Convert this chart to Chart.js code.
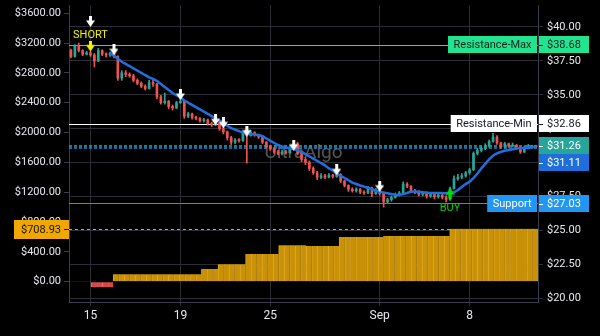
<!DOCTYPE html>
<html>
<head>
<meta charset="utf-8">
<script src="https://cdn.jsdelivr.net/npm/chart.js@4.4.1/dist/chart.umd.min.js"></script>
<style>
html,body{margin:0;padding:0;background:#000;}
#wrap{width:600px;height:336px;position:relative;}
</style>
</head>
<body>
<div id="wrap"><canvas id="c"></canvas></div>
<script>
// ── Candles (left axis, $) ──
const opens=[3100,3020,3160,3100,3050,3070,3040,2960,3100,3050,
 3040,3060,3020,2730,2800,2780,2760,2700,2660,2620,
 2590,2670,2650,2480,2400,2420,2350,2330,2400,2420,
 2220,2250,2200,2190,2160,2170,2120,2100,2130,2050,
 2010,1930,1870,1900,1890,1990,1960,2000,1970,1940,
 1870,1810,1780,1740,1720,1740,1730,1790,1850,1720,
 1640,1600,1520,1460,1400,1420,1400,1430,1410,1440,
 1350,1290,1240,1220,1240,1200,1190,1260,1180,1230,
 1180,1070,1100,1130,1170,1190,1310,1280,1220,1200,
 1170,1180,1150,1170,1140,1160,1130,1100,1250,1380,
 1400,1420,1460,1500,1720,1760,1790,1820,1880,1940,
 1860,1810,1850,1820,1830,1800,1740,1790,1820,1810];
const highs=[3120,3180,3200,3110,3090,3080,3060,3130,3110,3070,
 3080,3070,3030,2830,2830,2800,2780,2720,2680,2640,
 2700,2700,2660,2500,2530,2430,2370,2420,2470,2430,
 2270,2260,2220,2200,2190,2180,2140,2150,2140,2070,
 2020,1950,1920,1920,2000,2010,2030,2010,1980,1950,
 1880,1830,1800,1760,1760,1760,1800,1880,1870,1730,
 1660,1620,1540,1480,1450,1440,1450,1440,1500,1450,
 1360,1300,1260,1260,1250,1220,1280,1270,1250,1240,
 1190,1120,1150,1190,1210,1340,1330,1290,1240,1220,
 1200,1190,1190,1180,1180,1170,1150,1270,1420,1440,
 1450,1480,1520,1740,1790,1820,1850,1900,1990,1960,
 1870,1870,1860,1860,1840,1810,1810,1840,1830,1830];
const lows=[3000,3010,3080,3030,3040,3020,2880,2950,3030,3010,
 3020,3000,2700,2700,2750,2740,2680,2640,2600,2570,
 2580,2620,2450,2380,2380,2320,2300,2320,2390,2190,
 2200,2180,2170,2140,2140,2100,2080,2090,2030,1980,
 1900,1840,1850,1870,1880,1590,1950,1950,1920,1850,
 1790,1760,1720,1700,1700,1710,1720,1780,1700,1610,
 1570,1490,1440,1370,1380,1380,1390,1390,1400,1330,
 1270,1210,1200,1200,1180,1170,1180,1140,1170,1160,
 1000,1050,1080,1120,1150,1180,1260,1200,1180,1150,
 1150,1120,1130,1110,1120,1110,1070,1090,1240,1360,
 1380,1400,1440,1490,1700,1740,1770,1800,1870,1840,
 1790,1790,1800,1810,1780,1720,1730,1780,1790,1800];
const closes=[3020,3160,3100,3050,3070,3040,2960,3100,3050,3040,
 3060,3020,2730,2800,2780,2760,2700,2660,2620,2590,
 2670,2650,2480,2400,2420,2350,2330,2400,2420,2220,
 2250,2200,2190,2160,2170,2120,2100,2130,2050,2010,
 1930,1870,1900,1890,1990,1960,2000,1970,1940,1870,
 1810,1780,1740,1720,1740,1730,1790,1850,1720,1640,
 1600,1520,1460,1400,1420,1400,1430,1410,1440,1350,
 1290,1240,1220,1240,1200,1190,1260,1180,1230,1180,
 1070,1100,1130,1170,1190,1310,1280,1220,1200,1170,
 1180,1150,1170,1140,1160,1130,1100,1250,1380,1400,
 1420,1460,1500,1720,1760,1790,1820,1880,1940,1860,
 1810,1850,1820,1830,1800,1740,1790,1820,1810,1815];
const maLine=[null,null,null,null,null,null,null,null,null,null,
 3060,3030,2990,2950,2920,2890,2860,2830,2800,2770,
 2740,2720,2690,2650,2610,2570,2530,2500,2470,2430,
 2400,2370,2340,2310,2280,2250,2220,2190,2160,2130,
 2090,2060,2040,2020,2000,1990,1980,1975,1965,1950,
 1920,1890,1860,1830,1810,1800,1790,1780,1765,1740,
 1710,1680,1650,1620,1590,1560,1520,1490,1450,1420,
 1390,1360,1330,1310,1290,1275,1260,1240,1220,1205,
 1195,1185,1175,1165,1165,1175,1190,1205,1210,1205,
 1200,1195,1190,1190,1190,1190,1185,1190,1200,1230,
 1270,1310,1340,1390,1450,1520,1580,1640,1690,1720,
 1740,1755,1765,1775,1785,1790,1795,1800,1805,1800];

// ── Histogram (left axis) ──
const histVals=[10,10,10,10,-75,-75,-75,-75,
 100,100,100,100,100,100,100,100,100,100,100,100,100,100,100,100,
 170,170,170,235,235,235,235,235,
 370,370,370,370,370,370,490,490,490,490,490,
 478,478,478,478,478,478,600,600,600,600,600,600,600,600,
 612,612,612,612,612,612,612,612,612,612,612,612,
 708.93,708.93,708.93,708.93,708.93,708.93,708.93,708.93,
 708.93,708.93,708.93,708.93,708.93,708.93,708.93,708.93];
const histLast=708.93;

// ── Signals ──
const sellIdx=[5,11,28,37,39,45,57,68,79];
const sellPrice=[3490,3110,2510,2170,2130,2020,1830,1500,1280];
const shortIdx=5, shortPrice=3160, shortTextPrice=3305;
const buyIdx=97, buyPrice=1180, buyTextPrice=990;

// ── Levels (right axis) ──
const levelNames=['Resistance-Max','Resistance-Min','Support'];
const levelValues=[38.68,32.86,27.03];
const lastPrice=31.26, maLast=31.11;

// ── Axes ──
const xTickIdx=[5,28,51,79,102];
const xTickText=['15','19','25','Sep','8'];
const leftTicks=[0,400,800,1200,1600,2000,2400,2800,3200,3600];
const rightTicks=[20,22.5,25,27.5,30,32.5,35,37.5,40];
const watermark='UltraAlgo';

const UP='#26a69a', DOWN='#ef5350';
const labels=opens.map((_,i)=>i);
const histLabels=histVals.map((_,j)=>j);
const candleCol=closes.map((c,i)=>c>=opens[i]?UP:DOWN);

function arrowImg(color,up){
  const c=document.createElement('canvas');c.width=9;c.height=11;
  const g=c.getContext('2d');g.fillStyle=color;
  if(up){g.translate(0,11);g.scale(1,-1);}
  g.fillRect(3,0,3,5);
  g.beginPath();g.moveTo(0,4.5);g.lineTo(9,4.5);g.lineTo(4.5,11);g.closePath();g.fill();
  return c;
}

Chart.defaults.font.family='Roboto, sans-serif';

const overlay={
  id:'overlay',
  beforeDatasetsDraw(chart){
    const {ctx,chartArea:a,scales:{y,y1}}=chart;
    ctx.save();
    ctx.font='19px Roboto';ctx.fillStyle='rgba(130,130,130,0.65)';
    ctx.textAlign='center';ctx.textBaseline='middle';
    ctx.fillText(watermark,(a.left+a.right)/2,(a.top+a.bottom)/2);
    const lineCols=['#22e38f','#ffffff','#2196f3'];
    ctx.lineWidth=1;
    levelValues.forEach((v,k)=>{
      const py=Math.round(y1.getPixelForValue(v))+0.5;
      ctx.strokeStyle=lineCols[k];ctx.beginPath();ctx.moveTo(a.left,py);ctx.lineTo(a.right,py);ctx.stroke();
    });
    ctx.lineWidth=1.5;ctx.setLineDash([3,2]);
    [[lastPrice,'#26a6c0'],[maLast,'#1e88e5']].forEach(([v,col])=>{
      const py=Math.round(y1.getPixelForValue(v));
      ctx.strokeStyle=col;ctx.beginPath();ctx.moveTo(a.left,py);ctx.lineTo(a.right,py);ctx.stroke();
    });
    ctx.lineWidth=1;ctx.setLineDash([3,3]);ctx.strokeStyle='#f0a800';
    const gy=Math.round(y.getPixelForValue(histLast))+0.5;
    ctx.beginPath();ctx.moveTo(a.left,gy);ctx.lineTo(a.right,gy);ctx.stroke();
    ctx.restore();
  },
  afterDatasetsDraw(chart){
    const {ctx,scales:{x,y}}=chart;
    ctx.save();
    ctx.font='11px Roboto';ctx.textAlign='center';ctx.textBaseline='middle';
    ctx.fillStyle='#f2f200';
    ctx.fillText('SHORT',x.getPixelForValue(shortIdx),y.getPixelForValue(shortTextPrice));
    ctx.fillStyle='#00d400';
    ctx.fillText('BUY',x.getPixelForValue(buyIdx),y.getPixelForValue(buyTextPrice));
    ctx.restore();
  },
  afterDraw(chart){
    const {ctx,chartArea:a,scales:{y,y1}}=chart;
    ctx.save();
    ctx.font='11px Roboto';ctx.textBaseline='middle';
    const boxes=[
      {v:levelValues[0],bg:'#22e38f',fg:'#10201a',name:levelNames[0]},
      {v:levelValues[1],bg:'#ffffff',fg:'#131722',name:levelNames[1]},
      {v:lastPrice,bg:'#26a69a',fg:'#ffffff'},
      {v:maLast,bg:'#1e6fd9',fg:'#ffffff'},
      {v:levelValues[2],bg:'#2196f3',fg:'#ffffff',name:levelNames[2]}
    ].map(b=>Object.assign(b,{py:y1.getPixelForValue(b.v)})).sort((p,q)=>p.py-q.py);
    const h=17;let prevBottom=-1e9;
    boxes.forEach(b=>{
      const top=Math.max(Math.round(b.py-h/2),prevBottom);prevBottom=top+h;
      const cy=top+h/2;
      ctx.fillStyle=b.bg;ctx.fillRect(a.right+1,top,50,h);
      ctx.fillStyle=b.fg;ctx.fillRect(a.right+1,Math.round(cy),4,1);
      ctx.textAlign='left';ctx.fillText('$'+b.v.toFixed(2),a.right+9,cy+0.5);
      if(b.name){
        const w=ctx.measureText(b.name).width+12;
        ctx.fillStyle=b.bg;ctx.fillRect(a.right-w,top,w-1,h);
        ctx.fillStyle=b.fg;ctx.textAlign='center';ctx.fillText(b.name,a.right-w/2-0.5,cy+0.5);
      }
    });
    const gy=Math.round(y.getPixelForValue(histLast));
    ctx.fillStyle='#f0a800';ctx.fillRect(14,gy-9,a.left-14,19);
    ctx.fillStyle='#1a1400';ctx.fillRect(a.left-5,gy,5,1);
    ctx.textAlign='right';ctx.fillText('$'+histLast.toFixed(2),a.left-8,gy+1);
    ctx.restore();
  }
};

const axisCol='#3b3b4f', gridCol='#2c2c34', tickCol='#e6e8ee';

new Chart(document.getElementById('c'),{
  data:{labels,datasets:[
    {type:'bar',label:'hist',xAxisID:'xh',yAxisID:'y',order:5,data:histVals,
     backgroundColor:histVals.map(v=>v<0?'#d94848':'#c99105'),
     borderColor:histVals.map(v=>v<0?'#f07a7a':'#e0a82a'),
     borderWidth:{left:1,right:0,top:0,bottom:0},borderSkipped:false,
     barPercentage:1,categoryPercentage:1,grouped:false},
    {type:'bar',label:'wick',xAxisID:'x',yAxisID:'y',order:4,grouped:false,
     data:lows.map((l,i)=>[l,highs[i]]),backgroundColor:candleCol,barThickness:1},
    {type:'bar',label:'body',xAxisID:'x',yAxisID:'y',order:3,grouped:false,
     data:opens.map((o,i)=>[o,closes[i]]),backgroundColor:candleCol,barThickness:2,minBarLength:1},
    {type:'line',label:'MA',xAxisID:'x',yAxisID:'y',order:2,data:maLine,
     borderColor:'#1f6fe0',borderWidth:2.5,pointRadius:0,tension:0.35},
    {type:'line',label:'sell',xAxisID:'x',yAxisID:'y',order:1,showLine:false,
     data:sellIdx.map((x,k)=>({x,y:sellPrice[k]})),pointStyle:arrowImg('#ffffff',false)},
    {type:'line',label:'short',xAxisID:'x',yAxisID:'y',order:1,showLine:false,
     data:[{x:shortIdx,y:shortPrice}],pointStyle:arrowImg('#f2f200',false)},
    {type:'line',label:'buy',xAxisID:'x',yAxisID:'y',order:1,showLine:false,
     data:[{x:buyIdx,y:buyPrice}],pointStyle:arrowImg('#00e000',true)}
  ]},
  options:{responsive:true,maintainAspectRatio:false,animation:false,events:[],
    layout:{padding:{top:5,left:0,right:0,bottom:0}},
    plugins:{legend:{display:false},tooltip:{enabled:false}},
    scales:{
      x:{type:'category',offset:true,
        afterBuildTicks:s=>{s.ticks=xTickIdx.map(v=>({value:v}));},
        afterFit:s=>{s.height=34;s.paddingLeft=0;s.paddingRight=0;},
        ticks:{autoSkip:false,maxRotation:0,color:tickCol,padding:3,font:{size:12},
          callback:v=>xTickText[xTickIdx.indexOf(v)]},
        grid:{color:gridCol,offset:false,tickLength:4},
        border:{display:true,color:axisCol}},
      xh:{type:'category',labels:histLabels,offset:true,display:false},
      y:{position:'left',min:-272,max:3710,bounds:'data',
        afterBuildTicks:s=>{s.ticks=leftTicks.map(v=>({value:v}));},
        afterFit:s=>{s.width=69;s.paddingTop=0;s.paddingBottom=0;},
        ticks:{color:tickCol,padding:3,font:{size:11},callback:v=>'$'+v.toFixed(2)},
        grid:{drawOnChartArea:false,color:axisCol,tickLength:5},
        border:{display:true,color:axisCol}},
      y1:{position:'right',min:19.76,max:41.6,bounds:'data',
        afterBuildTicks:s=>{s.ticks=rightTicks.map(v=>({value:v}));},
        afterFit:s=>{s.width=62;s.paddingTop=0;s.paddingBottom=0;},
        ticks:{color:tickCol,padding:4,font:{size:11},callback:v=>'$'+v.toFixed(2)},
        grid:{color:gridCol,tickLength:5},
        border:{display:true,color:axisCol}}
    }},
  plugins:[overlay]
});
</script>
</body>
</html>
